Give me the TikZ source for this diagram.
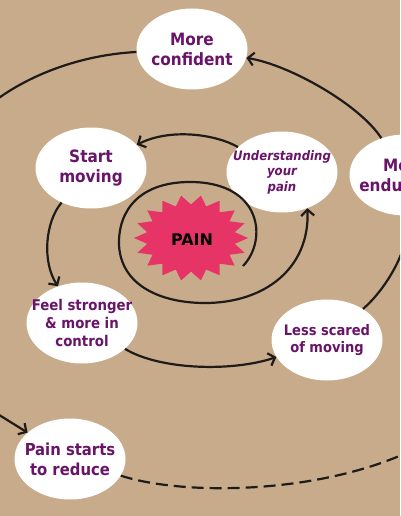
\documentclass[tikz,border=0pt]{standalone}
\usepackage{fontspec}
\usetikzlibrary{shapes.geometric,arrows.meta}
\newfontfamily\labfont{DejaVu Sans Condensed}
\newfontfamily\painfont{DejaVu Sans}
\definecolor{card}{RGB}{200,171,138}
\definecolor{labpurple}{RGB}{105,20,105}
\definecolor{starpink}{RGB}{230,52,102}
\definecolor{ink}{RGB}{30,28,26}
\begin{document}
\begin{tikzpicture}[x=1pt,y=-1pt,
  bubble/.style={ellipse, fill=white, minimum width=111pt, minimum height=81pt, inner xsep=-14pt, inner ysep=0pt, align=center, text=labpurple, font=\labfont\bfseries\fontsize{17}{20}\selectfont},
  line/.style={draw=ink, line width=2.2pt},
  link/.style={line, -{Straight Barb[length=6pt,width=13pt]}},
  dashline/.style={line, dash pattern=on 12pt off 6pt}]
\clip (0,0) rectangle (400,516);
\fill[card] (0,0) rectangle (400,516);
% star
\fill[starpink] plot[samples at={0,...,35}, variable=\i] ({191+57*(1-0.22*mod(\i,2))*cos(10*\i)}, {238+43*(1-0.22*mod(\i,2))*sin(10*\i)}) -- cycle;
\node[font=\painfont\bfseries\fontsize{16}{18}\selectfont, text=black] (pain) at (192,240) {PAIN};
% bubbles
\node[bubble] (conf) at (192,49) {More\\confident};
\node[bubble] (start) at (91,168) {Start\\moving};
\node[bubble, font=\labfont\bfseries\itshape\fontsize{13}{15.5}\selectfont] (under) at (282,172) {Understanding\\your\\pain};
\node[bubble] (endur) at (405,175) {More\\endurance};
\node[bubble, font=\labfont\bfseries\fontsize{14.8}{18}\selectfont] (feel) at (82,323) {Feel stronger\\\& more in\\control};
\node[bubble, font=\labfont\bfseries\fontsize{14.5}{17.5}\selectfont] (less) at (327,340) {Less scared\\of moving};
\node[bubble, font=\labfont\bfseries\fontsize{16.5}{20}\selectfont] (reduce) at (70,459) {Pain starts\\to reduce};
% free ends
\coordinate (spin) at (243,266);
\coordinate (offL) at (-4,100);
\coordinate (offL2) at (-4,413);
\coordinate (offR) at (404,454);
% connectors
\draw[link] (spin) .. controls (268,240) and (262,182) .. (190,182)
  .. controls (140,182) and (118,210) .. (119,245)
  .. controls (121,285) and (160,303) .. (205,303)
  .. controls (265,303) and (310,268) .. (under.-55);
\draw[link] (under) .. controls (215,134) and (170,128) .. (start);
\draw[link] (start) .. controls (45,222) and (42,262) .. (feel);
\draw[link] (feel) .. controls (160,370) and (232,372) .. (less);
\draw[link] (less) .. controls (385,290) and (410,250) .. (endur);
\draw[link] (endur) .. controls (360,105) and (290,65) .. (conf);
\draw[line] (conf) .. controls (80,55) and (30,75) .. (offL);
\draw[link] (offL2) -- (reduce);
\draw[dashline] (reduce) .. controls (180,495) and (310,495) .. (offR);
\end{tikzpicture}
\end{document}
